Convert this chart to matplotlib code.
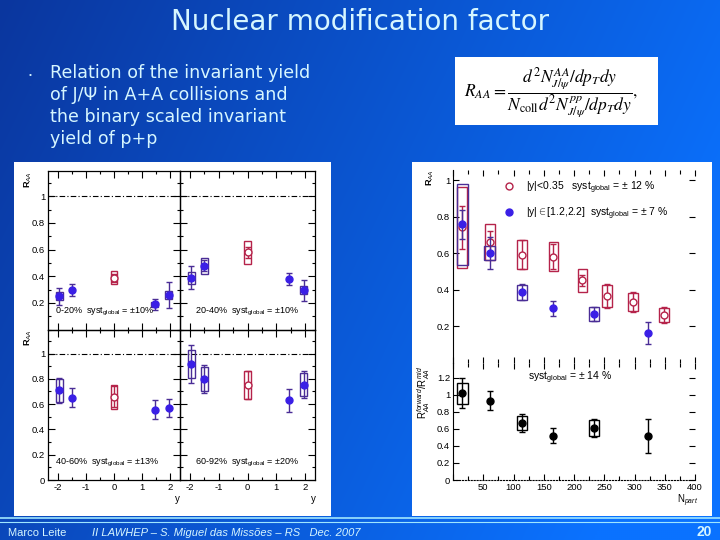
import matplotlib

matplotlib.use("Agg")
import matplotlib.pyplot as plt
import numpy as np
from matplotlib.lines import Line2D
from matplotlib.patches import Rectangle
from matplotlib.ticker import MultipleLocator

# R_AA vs rapidity, four centrality classes (left figure)
centrality = ["0-20%", "20-40%", "40-60%", "60-92%"]
syst_global_rap = ["±10%", "±10%", "±13%", "±20%"]
rap_fwd = [-1.95, -1.5, 1.45, 1.95]
rap_mid = [0.0]
raa_fwd = [
    [0.25, 0.295, 0.19, 0.26],
    [0.39, 0.48, 0.38, 0.295],
    [0.71, 0.65, 0.555, 0.57],
    [0.915, 0.80, 0.63, 0.755],
]
raa_fwd_stat = [
    [0.065, 0.045, 0.04, 0.10],
    [0.085, 0.04, 0.045, 0.08],
    [0.10, 0.075, 0.075, 0.07],
    [0.15, 0.11, 0.09, 0.11],
]
raa_fwd_syst = [
    [0.03, 0.0, 0.02, 0.03],
    [0.045, 0.06, 0.0, 0.03],
    [0.09, 0.0, 0.0, 0.0],
    [0.11, 0.095, 0.0, 0.09],
]
raa_mid = [0.39, 0.58, 0.66, 0.75]
raa_mid_stat = [0.03, 0.04, 0.08, 0.11]
raa_mid_syst = [0.05, 0.085, 0.095, 0.11]

# R_AA vs Npart and forward/mid ratio (right figure)
npart_fwd = [15, 61, 114, 166, 233, 322]
raa_np_fwd = [0.757, 0.60, 0.385, 0.297, 0.265, 0.163]
raa_np_fwd_stat = [0.08, 0.09, 0.045, 0.04, 0.04, 0.06]
raa_np_fwd_syst = [0.22, 0.04, 0.04, 0.0, 0.04, 0.0]
npart_mid = [15, 61, 114, 166, 214, 254, 297, 349]
raa_np_mid = [0.74, 0.66, 0.59, 0.58, 0.45, 0.366, 0.333, 0.26]
raa_np_mid_stat = [0.12, 0.06, 0.08, 0.07, 0.03, 0.065, 0.055, 0.045]
raa_np_mid_syst = [0.22, 0.10, 0.08, 0.08, 0.065, 0.06, 0.05, 0.04]
ratio = [1.02, 0.93, 0.67, 0.52, 0.61, 0.52]
ratio_stat = [0.175, 0.11, 0.11, 0.09, 0.11, 0.2]
ratio_syst = [0.125, 0.0, 0.085, 0.0, 0.09, 0.0]

BLUE = "#3a1fe6"
PURPLE = "#4a2d96"
RED = "#b5234a"
SLIDE_TXT = "#d6f6ff"

plt.rcParams["font.family"] = ["Liberation Sans", "DejaVu Sans"]
plt.rcParams["mathtext.fontset"] = "custom"
plt.rcParams["mathtext.rm"] = "Liberation Sans"
plt.rcParams["mathtext.it"] = "Liberation Sans:italic"
plt.rcParams["mathtext.bf"] = "Liberation Sans:bold"

fig = plt.figure(figsize=(7.2, 5.4), dpi=100)


def px_axes(x0, y0, x1, y1):
    """axes from pixel box (origin top-left)"""
    return fig.add_axes([x0 / 720, 1 - y1 / 540, (x1 - x0) / 720, (y1 - y0) / 540])


def syst_boxes(ax, x, y, s, half_w, color):
    for xi, yi, si in zip(x, y, s):
        if si > 0:
            ax.add_patch(Rectangle((xi - half_w, yi - si), 2 * half_w, 2 * si, fill=False, ec=color, lw=1, zorder=2))


# slide background
bg = px_axes(0, 0, 720, 540)
xx, yy = np.meshgrid(np.linspace(0, 1, 360), np.linspace(0, 1, 270))
t = np.clip(0.85 * xx + 0.3 * yy, 0, 1)
c0 = np.array([0x0A, 0x36, 0x9E]) / 255
c1 = np.array([0x0A, 0x72, 0xFF]) / 255
bg.imshow(c0 + (c1 - c0) * t[..., None], extent=[0, 720, 540, 0], aspect="auto", interpolation="bilinear")
bg.set_xlim(0, 720)
bg.set_ylim(540, 0)
bg.axis("off")

bg.text(360, 22, "Nuclear modification factor", ha="center", va="center", fontsize=20, color=SLIDE_TXT,
        family="DejaVu Sans")
bg.text(30, 75, "•", ha="center", va="center", fontsize=6, color=SLIDE_TXT)
bullet = ["Relation of the invariant yield", "of J/Ψ in A+A collisions and", "the binary scaled invariant",
          "yield of p+p"]
for i, line in enumerate(bullet):
    bg.text(50, 73 + 22 * i, line, va="center", fontsize=12.6, color=SLIDE_TXT, family="DejaVu Sans")

bg.add_patch(Rectangle((455, 57), 203, 68, fc="white", ec="none"))
bg.text(551, 92, r"$R_{AA} = \dfrac{d^2N^{AA}_{J/\psi}/dp_Tdy}{N_{\rm coll}d^2N^{pp}_{J/\psi}/dp_Tdy},$",
        ha="center", va="center", fontsize=12.5, math_fontfamily="stix")

bg.add_patch(Rectangle((14, 162), 317, 354, fc="white", ec="none"))
bg.add_patch(Rectangle((412, 162), 300, 354, fc="white", ec="none"))

bg.plot([0, 720], [518, 518], color="#9fe6ff", lw=1.2)
bg.plot([0, 720], [521.5, 521.5], color="#9fe6ff", lw=0.8)
bg.text(8, 533, "Marco Leite", va="center", fontsize=8, color=SLIDE_TXT)
bg.text(92, 533, "II LAWHEP – S. Miguel das Missões – RS   Dec. 2007", va="center", fontsize=8,
        style="italic", color=SLIDE_TXT)
bg.text(712, 532, "20", ha="right", va="center", fontsize=10, weight="bold", color=SLIDE_TXT)

# left figure: 2x2 rapidity panels
cols = [(48, 180), (180, 315)]
rows = [(171, 329.5), (329.5, 480)]
for i in range(4):
    r, c = divmod(i, 2)
    ax = px_axes(cols[c][0], rows[r][0], cols[c][1], rows[r][1])
    ax.patch.set_alpha(0)
    ax.set_xlim(-2.35, 2.35)
    ax.set_ylim(0, 1.19)
    ax.axhline(1, color="black", lw=0.8, ls=(0, (5, 2, 1, 2)))
    syst_boxes(ax, rap_fwd, raa_fwd[i], raa_fwd_syst[i], 0.12, PURPLE)
    syst_boxes(ax, rap_mid, [raa_mid[i]], [raa_mid_syst[i]], 0.12, RED)
    ax.errorbar(rap_fwd, raa_fwd[i], yerr=raa_fwd_stat[i], fmt="o", color=BLUE, ecolor=PURPLE, ms=5,
                capsize=2.5, elinewidth=1, capthick=1, zorder=3)
    ax.errorbar(rap_mid, [raa_mid[i]], yerr=[raa_mid_stat[i]], fmt="o", mfc="white", mec=RED, ecolor=RED,
                ms=5, capsize=2.5, elinewidth=1, capthick=1, zorder=3)
    ax.text(0.05 if c == 0 else 0.11, 0.1, f"{centrality[i]}  syst$_{{\\rm global}}$ = {syst_global_rap[i]}",
            transform=ax.transAxes, fontsize=6.5)

    ax.set_xticks([-2, -1, 0, 1, 2])
    ax.xaxis.set_minor_locator(MultipleLocator(0.5))
    if r == 0:
        ax.set_yticks([0.2, 0.4, 0.6, 0.8, 1.0])
        ax.set_yticklabels(["0.2", "0.4", "0.6", "0.8", "1"])
        ax.set_xticklabels([])
    else:
        ax.set_yticks([0, 0.2, 0.4, 0.6, 0.8, 1.0])
        ax.set_yticklabels(["0", "0.2", "0.4", "0.6", "0.8", "1"])
        ax.set_xticklabels(["-2", "-1", "0", "1", "2"])
    ax.yaxis.set_minor_locator(MultipleLocator(0.1))
    if c == 1:
        ax.tick_params(labelleft=False)
    ax.tick_params(which="both", direction="in", top=True, right=True, width=0.8, labelsize=6.8, pad=2)
    ax.tick_params(which="major", length=5)
    ax.tick_params(which="minor", length=2.5)
    for sp in ax.spines.values():
        sp.set_linewidth(0.9)

bg.text(28, 180, "R$_{AA}$", rotation=90, ha="center", va="center", fontsize=6.5, weight="bold")
bg.text(28, 338, "R$_{AA}$", rotation=90, ha="center", va="center", fontsize=6.5, weight="bold")
bg.text(177, 499, "y", ha="center", va="center", fontsize=7)
bg.text(313, 499, "y", ha="center", va="center", fontsize=7)

# right figure: R_AA vs Npart and ratio
ax_t = px_axes(453, 170, 695, 362.5)
ax_b = px_axes(453, 362.5, 695, 480)
for ax in (ax_t, ax_b):
    ax.patch.set_alpha(0)
    ax.set_xlim(0, 400)
    ax.xaxis.set_major_locator(MultipleLocator(50))
    ax.xaxis.set_minor_locator(MultipleLocator(25))
    ax.spines["top"].set_visible(False)
    ax.spines["right"].set_visible(False)
    ax.tick_params(which="both", direction="in", top=True, right=True, width=0.8, labelsize=6.8, pad=2)
    ax.tick_params(which="major", length=4)
    ax.tick_params(which="minor", length=3)

ax_t.set_ylim(0, 1.055)
ax_t.spines["bottom"].set_visible(False)
ax_t.set_yticks([0.2, 0.4, 0.6, 0.8, 1.0])
ax_t.set_yticklabels(["0.2", "0.4", "0.6", "0.8", "1"])
ax_t.yaxis.set_minor_locator(MultipleLocator(0.1))
ax_t.tick_params(which="minor", axis="y", left=False, right=False)
ax_t.tick_params(labelbottom=False)
syst_boxes(ax_t, npart_mid, raa_np_mid, raa_np_mid_syst, 8, RED)
syst_boxes(ax_t, npart_fwd, raa_np_fwd, raa_np_fwd_syst, 9, PURPLE)
ax_t.errorbar(npart_mid, raa_np_mid, yerr=raa_np_mid_stat, fmt="o", mfc="white", mec=RED, ecolor=RED, ms=5,
              capsize=2.5, elinewidth=1, capthick=1, zorder=3)
ax_t.errorbar(npart_fwd, raa_np_fwd, yerr=raa_np_fwd_stat, fmt="o", color=BLUE, ecolor=PURPLE, ms=5,
              capsize=2.5, elinewidth=1, capthick=1, zorder=4)
handles = [
    Line2D([], [], marker="o", ls="", mfc="white", mec=RED, ms=5),
    Line2D([], [], marker="o", ls="", color=BLUE, ms=5),
]
labels = [r"|y|<0.35   syst$_{\rm global}$ = ± 12 %", r"|y|$\in$[1.2,2.2]  syst$_{\rm global}$ = ± 7 %"]
ax_t.legend(handles, labels, loc="upper left", bbox_to_anchor=(0.17, 1.0), frameon=False, fontsize=7.5,
            handletextpad=1.2, labelspacing=0.9, handlelength=1)

ax_b.set_ylim(0, 1.38)
ax_b.spines["bottom"].set_linestyle(":")
ax_b.set_yticks([0, 0.2, 0.4, 0.6, 0.8, 1.0, 1.2])
ax_b.set_yticklabels(["0", "0.2", "0.4", "0.6", "0.8", "1", "1.2"])
ax_b.set_xticks(range(0, 401, 50))
ax_b.set_xticklabels([""] + [str(v) for v in range(50, 401, 50)])
syst_boxes(ax_b, npart_fwd, ratio, ratio_syst, 9, "black")
ax_b.errorbar(npart_fwd, ratio, yerr=ratio_stat, fmt="o", color="black", ms=5, capsize=2.5, elinewidth=1,
              capthick=1, zorder=3)
ax_b.text(0.31, 0.87, r"syst$_{\rm global}$ = ± 14 %", transform=ax_b.transAxes, fontsize=7.5, va="center")

bg.text(430, 178, "R$_{AA}$", rotation=90, ha="center", va="center", fontsize=6.5, weight="bold")
bg.text(424, 392, r"R$_{AA}^{forward}$/R$_{AA}^{mid}$", rotation=90, ha="center", va="center", fontsize=7)
bg.text(688, 501, "N$_{part}$", ha="center", va="center", fontsize=7)

fig.savefig("out.png", dpi=100)
